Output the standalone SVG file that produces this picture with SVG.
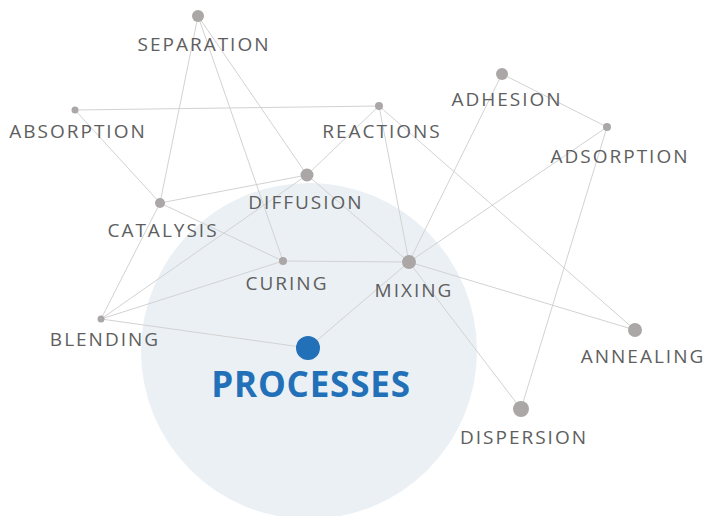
<svg xmlns="http://www.w3.org/2000/svg" width="707" height="516" viewBox="0 0 707 516">
<style>
.e{stroke:#d2d2d2;stroke-width:1;fill:none}
.n{fill:#aba7a7}
.t{font-family:"Open Sans","DejaVu Sans",sans-serif;font-size:19px;fill:#5e5e5e;text-anchor:middle;letter-spacing:2px}
.m{font-family:"Open Sans","DejaVu Sans",sans-serif;font-size:35px;font-weight:bold;fill:#2271b8;text-anchor:middle;letter-spacing:0.8px}
</style>
<rect width="707" height="516" fill="#fff"/>
<circle cx="309" cy="351" r="168" fill="#ebf0f5"/>
<g id="connectors" class="e">
<line x1="198" y1="16" x2="160" y2="203"/>
<line x1="198" y1="16" x2="283" y2="261"/>
<line x1="198" y1="16" x2="307" y2="175"/>
<line x1="75" y1="110" x2="379" y2="106"/>
<line x1="75" y1="110" x2="160" y2="203"/>
<line x1="160" y1="203" x2="307" y2="175"/>
<line x1="160" y1="203" x2="283" y2="261"/>
<line x1="160" y1="203" x2="101" y2="319"/>
<line x1="307" y1="175" x2="379" y2="106"/>
<line x1="307" y1="175" x2="409" y2="262"/>
<line x1="307" y1="175" x2="101" y2="319"/>
<line x1="379" y1="106" x2="409" y2="262"/>
<line x1="379" y1="106" x2="635" y2="330"/>
<line x1="502" y1="74" x2="409" y2="262"/>
<line x1="502" y1="74" x2="607" y2="127"/>
<line x1="607" y1="127" x2="409" y2="262"/>
<line x1="607" y1="127" x2="521" y2="409"/>
<line x1="409" y1="262" x2="283" y2="261"/>
<line x1="409" y1="262" x2="635" y2="330"/>
<line x1="409" y1="262" x2="521" y2="409"/>
<line x1="409" y1="262" x2="308" y2="348"/>
<line x1="101" y1="319" x2="308" y2="348"/>
<line x1="101" y1="319" x2="283" y2="261"/>
</g>
<g id="separation"><circle class="n" cx="198" cy="16" r="6"/><text class="t" x="204" y="51">SEPARATION</text></g>
<g id="absorption"><circle class="n" cx="75" cy="110" r="3.5"/><text class="t" x="78" y="138">ABSORPTION</text></g>
<g id="catalysis"><circle class="n" cx="160" cy="203" r="5"/><text class="t" x="163" y="237">CATALYSIS</text></g>
<g id="diffusion"><circle class="n" cx="307" cy="175" r="6.5"/><text class="t" x="306" y="209">DIFFUSION</text></g>
<g id="reactions"><circle class="n" cx="379" cy="106" r="4"/><text class="t" x="382" y="138">REACTIONS</text></g>
<g id="adhesion"><circle class="n" cx="502" cy="74" r="6"/><text class="t" x="507" y="106">ADHESION</text></g>
<g id="adsorption"><circle class="n" cx="607" cy="127" r="4"/><text class="t" x="620" y="163">ADSORPTION</text></g>
<g id="curing"><circle class="n" cx="283" cy="261" r="4"/><text class="t" x="287" y="290">CURING</text></g>
<g id="mixing"><circle class="n" cx="409" cy="262" r="7"/><text class="t" x="414" y="297">MIXING</text></g>
<g id="blending"><circle class="n" cx="101" cy="319" r="3.5"/><text class="t" x="105" y="346">BLENDING</text></g>
<g id="annealing"><circle class="n" cx="635" cy="330" r="7"/><text class="t" x="643" y="363">ANNEALING</text></g>
<g id="dispersion"><circle class="n" cx="521" cy="409" r="8"/><text class="t" x="524" y="444">DISPERSION</text></g>
<g id="processes"><circle cx="308" cy="348" r="12" fill="#2271b8"/><text class="m" x="311" y="397">PROCESSES</text></g>
</svg>
